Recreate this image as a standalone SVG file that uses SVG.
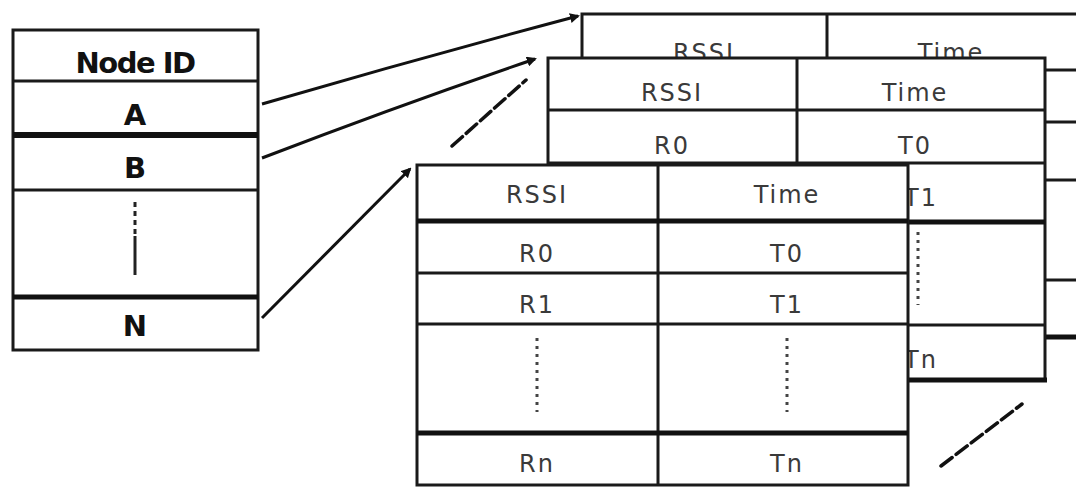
<svg xmlns="http://www.w3.org/2000/svg" width="1076" height="489" viewBox="0 0 1076 489">
<style>
.bg{fill:#fff}
.box{fill:#fff;stroke:#1a1a1a;stroke-width:3}
.ln{stroke:#1a1a1a;stroke-width:3;fill:none}
.thk{stroke:#111;stroke-width:5;fill:none}
.lbl{font-family:"DejaVu Sans",sans-serif;font-weight:bold;font-size:29px;fill:#111;text-anchor:middle}
.cell{font-family:"DejaVu Sans",sans-serif;font-size:24px;fill:#3a3a3a;text-anchor:middle;letter-spacing:2px}
.dots{stroke:#444;stroke-width:3;stroke-dasharray:3 5;fill:none}
.con{stroke:#111;stroke-width:3;fill:none}
.ell{stroke:#111;stroke-width:3.5;stroke-dasharray:14 5;stroke-linecap:round;fill:none}
</style>
<defs>
<marker id="ah" markerWidth="10" markerHeight="10" refX="8" refY="5" orient="auto" markerUnits="userSpaceOnUse">
<path d="M0,0 L10,5 L0,10 z" fill="#111"/>
</marker>
</defs>
<rect class="bg" x="0" y="0" width="1076" height="489"/>

<g id="node-id-table">
<rect class="box" x="13" y="30" width="245" height="320"/>
<line class="ln" x1="13" y1="81" x2="258" y2="81"/>
<line x1="13" y1="135" x2="258" y2="135" stroke="#111" stroke-width="6"/>
<line class="ln" x1="13" y1="190" x2="258" y2="190"/>
<line class="thk" x1="13" y1="297" x2="258" y2="297" stroke-width="4"/>
<text class="lbl" x="135" y="73" font-size="27" letter-spacing="-1.5">Node ID</text>
<text class="lbl" x="135" y="125">A</text>
<text class="lbl" x="135" y="178">B</text>
<text class="lbl" x="135" y="336">N</text>
<line x1="135" y1="202" x2="135" y2="236" stroke="#222" stroke-width="3" stroke-dasharray="5 4"/>
<line x1="135" y1="236" x2="135" y2="275" stroke="#222" stroke-width="3"/>
</g>

<g id="table-back">
<rect class="box" x="582" y="14" width="510" height="323"/>
<line class="ln" x1="827" y1="14" x2="827" y2="337"/>
<line class="ln" x1="582" y1="70" x2="1092" y2="70"/>
<line class="ln" x1="582" y1="122" x2="1092" y2="122"/>
<line class="ln" x1="582" y1="180" x2="1092" y2="180"/>
<line class="ln" x1="582" y1="280" x2="1092" y2="280"/>
<line class="thk" x1="1046" y1="337" x2="1092" y2="337" stroke-width="4"/>
<text class="cell" x="704" y="61">RSSI</text>
<text class="cell" x="951" y="61">Time</text>
</g>

<g id="table-middle">
<rect class="box" x="548" y="58" width="497" height="322"/>
<line class="ln" x1="797" y1="58" x2="797" y2="380"/>
<line class="ln" x1="548" y1="110" x2="1045" y2="110"/>
<line class="ln" x1="548" y1="163" x2="1045" y2="163"/>
<line class="thk" x1="548" y1="222" x2="1045" y2="222"/>
<line class="ln" x1="548" y1="325" x2="1045" y2="325"/>
<line class="thk" x1="548" y1="380" x2="1047" y2="380"/>
<text class="cell" x="672" y="101">RSSI</text>
<text class="cell" x="915" y="101">Time</text>
<text class="cell" x="672" y="154">R0</text>
<text class="cell" x="915" y="154">T0</text>
<text class="cell" x="921" y="206">T1</text>
<text class="cell" x="921" y="368">Tn</text>
<line class="dots" x1="918" y1="232" x2="918" y2="305"/>
</g>

<g id="table-front">
<rect class="box" x="417" y="165" width="491" height="320"/>
<line class="ln" x1="658" y1="165" x2="658" y2="485"/>
<line class="thk" x1="417" y1="221" x2="908" y2="221"/>
<line class="ln" x1="417" y1="273" x2="908" y2="273"/>
<line class="ln" x1="417" y1="324" x2="908" y2="324"/>
<line class="thk" x1="417" y1="433" x2="908" y2="433" stroke-width="4"/>
<text class="cell" x="537" y="203">RSSI</text>
<text class="cell" x="787" y="203">Time</text>
<text class="cell" x="537" y="262">R0</text>
<text class="cell" x="787" y="262">T0</text>
<text class="cell" x="537" y="313">R1</text>
<text class="cell" x="787" y="313">T1</text>
<text class="cell" x="537" y="472">Rn</text>
<text class="cell" x="787" y="472">Tn</text>
<line class="dots" x1="537" y1="338" x2="537" y2="412"/>
<line class="dots" x1="787" y1="338" x2="787" y2="412"/>
</g>

<g id="connectors">
<path class="con" d="M262,104 Q420,58 578,16" marker-end="url(#ah)"/>
<path class="con" d="M262,158 Q400,105 535,59" marker-end="url(#ah)"/>
<path class="con" d="M262,318 L410,169" marker-end="url(#ah)"/>
<line class="ell" x1="452" y1="146" x2="526" y2="80"/>
<line class="ell" x1="941" y1="466" x2="1022" y2="404"/>
</g>
</svg>
